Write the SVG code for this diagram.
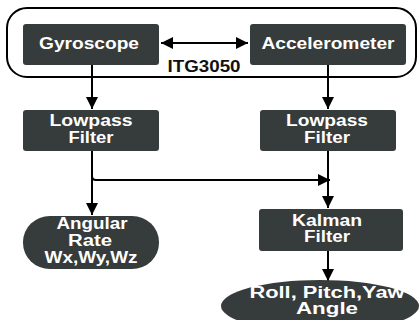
<svg xmlns="http://www.w3.org/2000/svg" width="419" height="320" viewBox="0 0 419 320">
<defs>
<style>
.box{fill:#363b3b;}
.t{fill:#fff;font-family:"Liberation Sans",Arial,sans-serif;font-weight:bold;font-size:16px;text-anchor:middle;}
.lbl{fill:#111;font-family:"Liberation Sans",Arial,sans-serif;font-weight:bold;font-size:16px;text-anchor:middle;}
.ln{stroke:#000;stroke-width:2;fill:none;}
</style>
<marker id="ahb" viewBox="0 0 10 10" refX="10" refY="5" markerWidth="12" markerHeight="12" orient="auto-start-reverse" markerUnits="userSpaceOnUse">
<path d="M0,0 L10,5 L0,10 z" fill="#000"/>
</marker>
</defs>
<rect width="419" height="320" fill="#fff"/>
<rect id="itg" x="7" y="8" width="409" height="69" rx="20" ry="20" fill="none" stroke="#000" stroke-width="2"/>
<g id="connectors">
<line class="ln" x1="161" y1="43" x2="248" y2="43" marker-start="url(#ahb)" marker-end="url(#ahb)"/>
<line class="ln" x1="92" y1="65" x2="92" y2="109" marker-end="url(#ahb)"/>
<line class="ln" x1="328" y1="65" x2="328" y2="109" marker-end="url(#ahb)"/>
<path class="ln" d="M92,151 L92,215" marker-end="url(#ahb)"/>
<path class="ln" d="M92,176 Q92,180 96,180 L330,180" marker-end="url(#ahb)"/>
<line class="ln" x1="328" y1="151" x2="328" y2="208" marker-end="url(#ahb)"/>
<line class="ln" x1="328" y1="251" x2="328" y2="281" marker-end="url(#ahb)"/>
</g>
<text class="lbl" x="204" y="71.5" textLength="73" lengthAdjust="spacingAndGlyphs">ITG3050</text>
<g id="gyro">
<rect class="box" x="23" y="24" width="136" height="41" rx="3"/>
<text class="t" x="89" y="49" textLength="100" lengthAdjust="spacingAndGlyphs">Gyroscope</text>
</g>
<g id="accel">
<rect class="box" x="250" y="24" width="156" height="41" rx="3"/>
<text class="t" x="328" y="49" textLength="133" lengthAdjust="spacingAndGlyphs">Accelerometer</text>
</g>
<g id="lp1">
<rect class="box" x="23" y="110" width="136" height="41" rx="3"/>
<text class="t" x="91" y="126" textLength="83" lengthAdjust="spacingAndGlyphs">Lowpass</text>
<text class="t" x="91" y="142.5" textLength="45" lengthAdjust="spacingAndGlyphs">Filter</text>
</g>
<g id="lp2">
<rect class="box" x="260" y="110" width="136" height="41" rx="3"/>
<text class="t" x="327" y="126" textLength="82" lengthAdjust="spacingAndGlyphs">Lowpass</text>
<text class="t" x="327" y="142.5" textLength="46" lengthAdjust="spacingAndGlyphs">Filter</text>
</g>
<g id="angular">
<rect class="box" x="23" y="216" width="136" height="53" rx="27" ry="26"/>
<text class="t" x="92" y="229" textLength="71" lengthAdjust="spacingAndGlyphs">Angular</text>
<text class="t" x="90" y="246" textLength="44" lengthAdjust="spacingAndGlyphs">Rate</text>
<text class="t" x="91" y="263" textLength="93" lengthAdjust="spacingAndGlyphs">Wx,Wy,Wz</text>
</g>
<g id="kalman">
<rect class="box" x="259" y="209" width="144" height="42" rx="3"/>
<text class="t" x="327" y="226" textLength="70" lengthAdjust="spacingAndGlyphs">Kalman</text>
<text class="t" x="327" y="242" textLength="46" lengthAdjust="spacingAndGlyphs">Filter</text>
</g>
<g id="roll">
<ellipse class="box" cx="320" cy="306" rx="99" ry="26"/>
<text class="t" x="327" y="298" textLength="155" lengthAdjust="spacingAndGlyphs">Roll, Pitch,Yaw</text>
<text class="t" x="327" y="314" textLength="62" lengthAdjust="spacingAndGlyphs">Angle</text>
</g>
</svg>
